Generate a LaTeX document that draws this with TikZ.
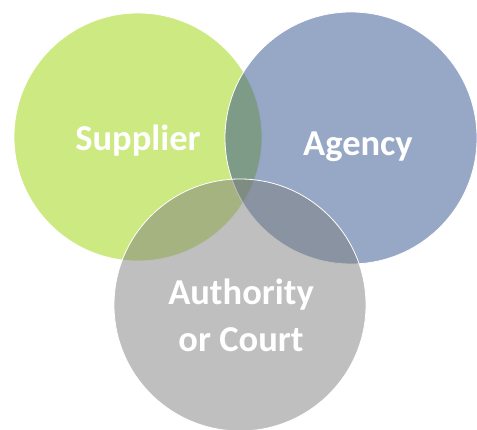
\documentclass[tikz,border=0pt]{standalone}
\usepackage{fontspec}
\setmainfont{Carlito}
\definecolor{cgreen}{RGB}{205,233,130}
\definecolor{cblue}{RGB}{47,79,141}
\definecolor{cgray}{RGB}{127,127,127}
\begin{document}
\begin{tikzpicture}[x=1pt,y=1pt,
  ring/.style={draw=white,line width=0.8pt},
  lbl/.style={text=white,font=\fontsize{36.5}{42}\selectfont\bfseries,align=center,inner sep=0pt}]
\useasboundingbox (0,0) rectangle (477,430);
\filldraw[ring,fill=cgreen] (138,293) circle (124);
\filldraw[ring,fill=cblue,fill opacity=0.5] (351,292) circle (126);
\filldraw[ring,fill=cgray,fill opacity=0.5] (240,125) circle (126);
\node[lbl,anchor=base] (sup) at (138,279) {Supplier};
\node[lbl,anchor=base] (age) at (358,274) {Agency};
\node[lbl,anchor=base] (aut) at (241,125) {Authority};
\node[lbl,anchor=base] (cou) at (241,78) {or Court};
\end{tikzpicture}
\end{document}
